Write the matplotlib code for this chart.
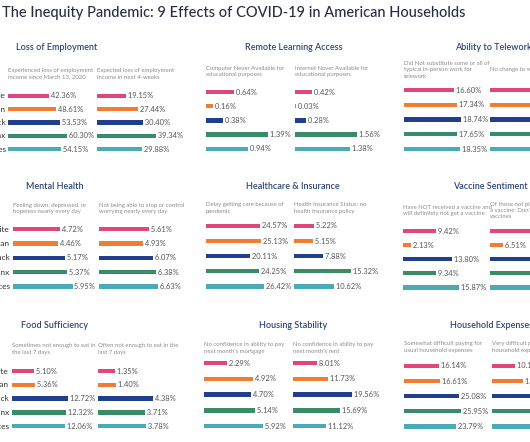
import matplotlib
matplotlib.use("Agg")
import matplotlib.pyplot as plt

plt.rcParams['font.family'] = ['Lato', 'DejaVu Sans']

groups = ["White", "Asian", "Black", "Latinx", "All Races"]
group_colors = ["#e0457b", "#f07d31", "#213f8c", "#3a8c69", "#4aaab8"]

title = "The Inequity Pandemic: 9 Effects of COVID-19 in American Households"

panel_titles = ["Loss of Employment", "Remote Learning Access", "Ability to Telework",
                "Mental Health", "Healthcare & Insurance", "Vaccine Sentiment",
                "Food Sufficiency", "Housing Stability", "Household Expenses"]

col_headers = [
    ("Experienced loss of employment\nincome since March 13, 2020",
     "Expected loss of employment\nincome in next 4-weeks"),
    ("Computer Never Available for\neducational purposes",
     "Internet Never Available for\neducational purposes"),
    ("Did Not substitute some or all of\ntypical in-person work for\ntelework",
     "No change to work for telework"),
    ("Feeling down, depressed, or\nhopeless nearly every day",
     "Not being able to stop or control\nworrying nearly every day"),
    ("Delay getting care because of\npandemic",
     "Health Insurance Status: no\nhealth insurance policy"),
    ("Have NOT received a vaccine and\nwill definitely not get a vaccine",
     "Of those not planning to get\na vaccine: Don't trust COVID-19\nvaccines"),
    ("Sometimes not enough to eat in\nthe last 7 days",
     "Often not enough to eat in the\nlast 7 days"),
    ("No confidence in ability to pay\nnext month's mortgage",
     "No confidence in ability to pay\nnext month's rent"),
    ("Somewhat difficult paying for\nusual household expenses",
     "Very difficult paying for usual\nhousehold expenses"),
]

loss_since_march = [42.36, 48.61, 53.53, 60.30, 54.15]
loss_expected = [19.15, 27.44, 30.40, 39.34, 29.88]
computer_never = [0.64, 0.16, 0.38, 1.39, 0.94]
internet_never = [0.42, 0.03, 0.28, 1.56, 1.38]
no_telework_sub = [16.60, 17.34, 18.74, 17.65, 18.35]
no_change_work = [30.0, 29.0, 31.0, 30.0, 30.0]
feeling_down = [4.72, 4.46, 5.17, 5.37, 5.95]
worrying = [5.61, 4.93, 6.07, 6.38, 6.63]
delay_care = [24.57, 25.13, 20.11, 24.25, 26.42]
no_insurance = [5.22, 5.15, 7.88, 15.32, 10.62]
no_vaccine = [9.42, 2.13, 13.80, 9.34, 15.87]
distrust_vaccine = [25.0, 6.51, 30.0, 24.0, 26.0]
sometimes_hungry = [5.10, 5.36, 12.72, 12.32, 12.06]
often_hungry = [1.35, 1.40, 4.38, 3.71, 3.78]
no_mortgage = [2.29, 4.92, 4.70, 5.14, 5.92]
no_rent = [8.01, 11.73, 19.56, 15.69, 11.12]
somewhat_difficult = [16.14, 16.61, 25.08, 25.95, 23.79]
very_difficult = [10.13, 13.48, 20.0, 19.0, 18.0]

series = [
    (loss_since_march, loss_expected),
    (computer_never, internet_never),
    (no_telework_sub, no_change_work),
    (feeling_down, worrying),
    (delay_care, no_insurance),
    (no_vaccine, distrust_vaccine),
    (sometimes_hungry, often_hungry),
    (no_mortgage, no_rent),
    (somewhat_difficult, very_difficult),
]

# ---- layout (pixels) ----
W, H = 530, 442
fig = plt.figure(figsize=(W / 100, H / 100), dpi=100)
fig.patch.set_facecolor("white")

def fx(x):
    return x / W

def fy(y):
    return 1 - y / H

# per panel: (title x, title align, title y, header y, row0 y, row spacing,
#             col starts, px per percent, label right edge)
layout = [
    (57, "center", 47, 74, 96, 13.3, (8, 97), (0.978, 1.5), 6),
    (294, "center", 47, 71.7, 92, 14.2, (206, 295), (44.5, 39.5), None),
    (455, "left", 47, 70, 90, 14.75, (404, 490), (3.03, 2.0), None),
    (55, "center", 186, 208.5, 229, 14.4, (13, 99), (10.0, 8.95), 10),
    (293, "center", 186, 208, 226, 15.1, (206, 294), (2.18, 3.74), None),
    (453, "left", 186, 210.7, 231, 14.1, (403, 490), (3.55, 2.05), None),
    (55, "center", 325, 349, 371, 13.8, (12, 98), (4.38, 12.6), 9),
    (293, "center", 325, 348, 363, 15.8, (204, 293), (9.9, 3.0), None),
    (450, "left", 325, 347, 366, 15.1, (404, 492), (2.18, 2.3), None),
]

title_color = "#2c4677"
header_color = "#8c8c8c"
value_color = "#555555"

fig.text(fx(2), fy(13), title, fontsize=10.5, color="#2b2d42",
         ha="left", va="center", fontweight="medium")

for p, (tx, tal, ty, hy, y0, sp, starts, scales, lab_right) in enumerate(layout):
    fig.text(fx(tx), fy(ty), panel_titles[p], fontsize=6.5, color=title_color,
             ha=tal, va="center", fontweight="semibold")
    for c in range(2):
        vals = series[p][c]
        x0 = starts[c]
        wpx = 80
        top = y0 - sp / 2
        ax = fig.add_axes([fx(x0), fy(top + 5 * sp), wpx / W, 5 * sp / H])
        ax.set_xlim(0, wpx / scales[c])
        ax.set_ylim(4.5, -0.5)
        ax.axis("off")
        ax.barh(range(5), vals, height=4.3 / sp, color=group_colors,
                clip_on=False)
        for i, v in enumerate(vals):
            ax.text(v, i, f" {v:.2f}%", fontsize=5.4, color=value_color,
                    ha="left", va="center", clip_on=False)
        fig.text(fx(x0), fy(hy), col_headers[p][c], fontsize=4.3,
                 color=header_color, ha="left", va="center", linespacing=1.3)
    if lab_right is not None:
        for i, g in enumerate(groups):
            fig.text(fx(lab_right), fy(y0 + i * sp), g, fontsize=6,
                     color="#333333", ha="right", va="center")

fig.savefig("out.png", dpi=100, facecolor="white")
